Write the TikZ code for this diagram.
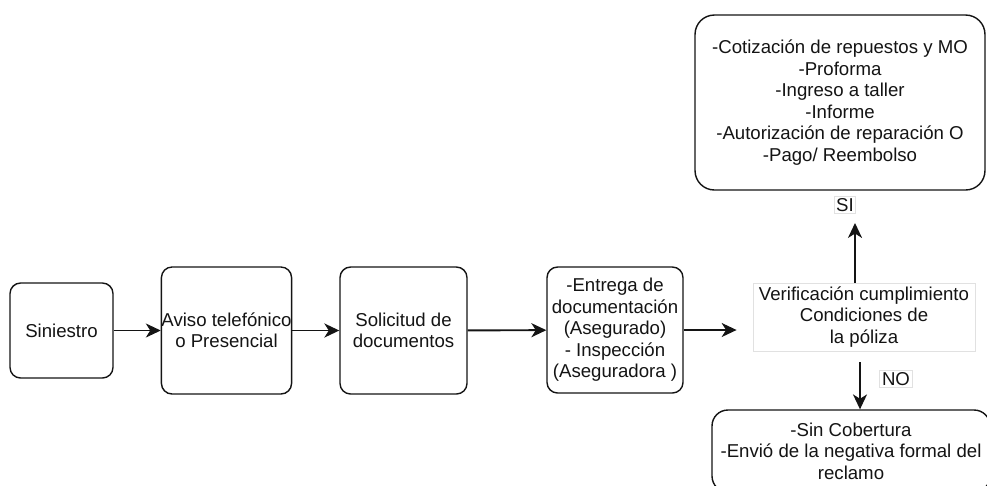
\documentclass[tikz,border=0pt]{standalone}
\usepackage{fontspec}
\setmainfont{Liberation Sans}
\usepackage{tikz}
\usetikzlibrary{arrows.meta, positioning, calc}
\definecolor{linecolor}{RGB}{20, 20, 20}
\definecolor{faintcolor}{RGB}{225, 225, 225}

\begin{document}
\begin{tikzpicture}[
    x=0.02cm, y=-0.02cm,
    every node/.style={font=\fontsize{10.6}{12.2}\selectfont, text=linecolor},
    stepbox/.style={draw=linecolor, line width=0.8pt, fill=white, rounded corners=6pt, align=center, inner sep=0pt},
    plainbox/.style={draw=faintcolor, line width=0.5pt, fill=white, align=center, inner sep=0pt},
    tag/.style={draw=faintcolor, line width=0.5pt, fill=white, inner sep=1.2pt},
    flow/.style={-{Stealth[length=8.5pt, width=8pt, inset=2.5pt]}, linecolor}
]
    \clip (0,0) rectangle (987,485);

    % Main line
    \node[stepbox, minimum width=2.06cm, minimum height=1.9cm] (siniestro) at (61.5, 330.5) {Siniestro};
    \node[stepbox, minimum width=2.54cm, minimum height=2.54cm] (aviso) at (226.5, 330.5) {Aviso telefónico\\o Presencial};
    \node[stepbox, minimum width=2.54cm, minimum height=2.54cm] (solicitud) at (403.5, 330.5) {Solicitud de\\documentos};
    \node[stepbox, minimum width=2.72cm, minimum height=2.52cm] (entrega) at (615, 330) {-Entrega de\\documentación\\(Asegurado)\\- Inspección\\(Aseguradora )};

    % Check
    \node[plainbox, minimum width=4.44cm, minimum height=1.36cm] (verif) at (864, 317) {Verificación cumplimiento\\Condiciones de\\la póliza};

    % Outcomes
    \node[stepbox, rounded corners=11pt, minimum width=5.8cm, minimum height=3.5cm] (sibox) at (840, 102.5) {-Cotización de repuestos y MO\\-Proforma\\-Ingreso a taller\\-Informe\\-Autorización de reparación O\\-Pago/ Reembolso};
    \node[stepbox, rounded corners=9pt, minimum width=5.56cm, minimum height=1.64cm] (nobox) at (851, 451) {-Sin Cobertura\\-Envió de la negativa formal del\\reclamo};

    % Arrows
    \draw[flow, line width=0.6pt] (siniestro) -- (aviso);
    \draw[flow, line width=1.1pt] (aviso) -- (solicitud);
    \draw[flow, line width=1.1pt] (solicitud) -- (entrega);
    \draw[flow, line width=0.9pt, shorten >=0.32cm] (entrega) -- (entrega -| verif.west);

    \coordinate (sitip) at (855, 223);
    \draw[flow, line width=0.9pt] (verif.north -| sitip) -- (sitip);
    \node[tag] (si) at (845, 205) {SI};

    \coordinate (nostart) at (860, 362);
    \draw[flow, line width=0.9pt] (nostart) -- (nostart |- nobox.north);
    \node[tag] (no) at (896, 379) {NO};

\end{tikzpicture}
\end{document}
